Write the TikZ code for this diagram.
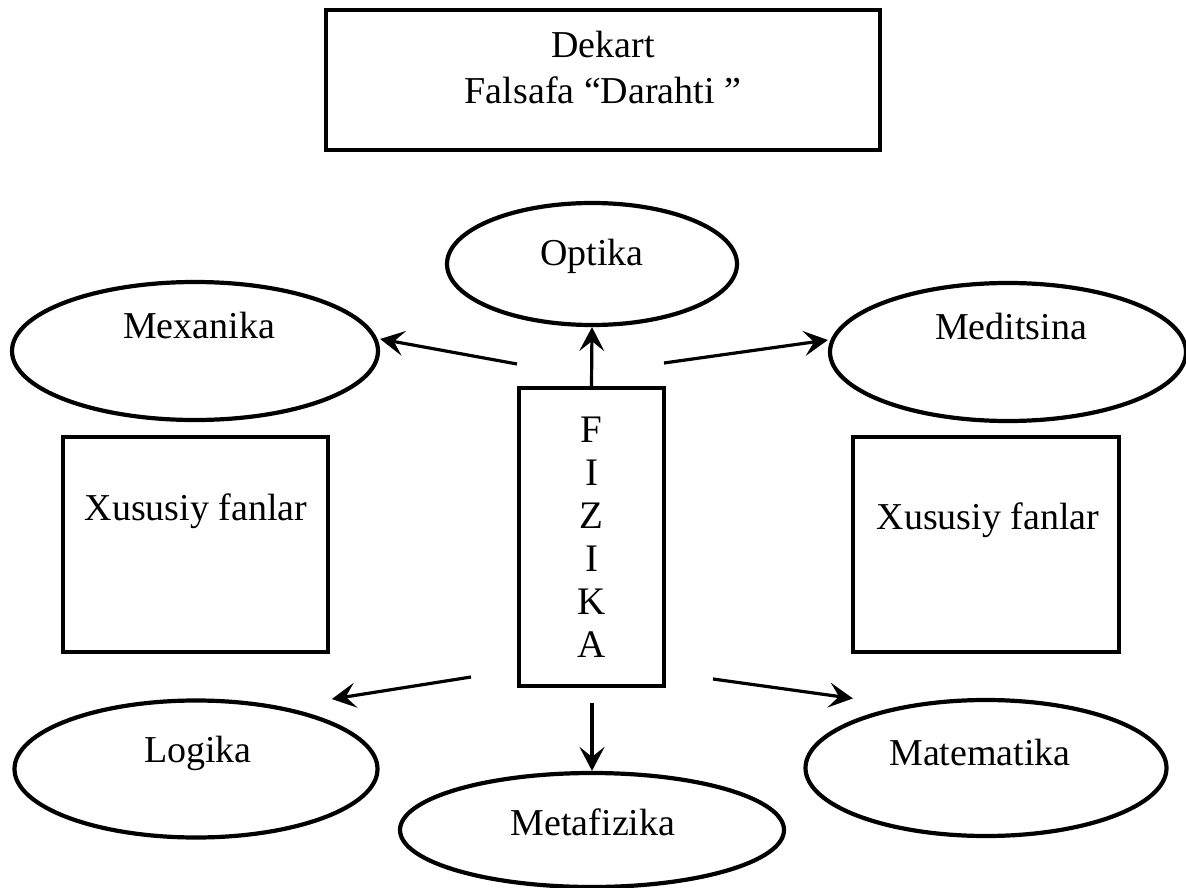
\documentclass[tikz,border=0pt]{standalone}
\usepackage{fontspec}
\setmainfont{Liberation Serif}
\usetikzlibrary{shapes.geometric,arrows.meta}
\begin{document}
\begin{tikzpicture}[x=1pt,y=-1pt,
  every node/.style={font=\fontsize{38}{46}\selectfont},
  boxnode/.style={draw,line width=4.2pt,rectangle,inner sep=0pt},
  ellnode/.style={draw,line width=4.2pt,ellipse,inner sep=0pt},
  lbl/.style={inner sep=0pt},
  arr/.style={line width=3.2pt,-{Stealth[length=24pt,width=25pt,inset=10pt]}}]
\useasboundingbox (0,0) rectangle (1186,888);
% boxes
\node[boxnode,minimum width=554pt,minimum height=140pt] (top) at (603,80) {};
\node[lbl,align=center] (topT) at (603,68) {Dekart\\Falsafa “Darahti ”};
\node[boxnode,minimum width=145pt,minimum height=298pt,align=center,font=\fontsize{39}{43}\selectfont] (fiz) at (591.5,537) {F\\I\\Z\\I\\K\\A};
\node[boxnode,minimum width=265pt,minimum height=215pt] (xl) at (195.5,544.5) {};
\node[lbl] (xlT) at (196,511) {Xususiy fanlar};
\node[boxnode,minimum width=266pt,minimum height=215pt] (xr) at (986,544.5) {};
\node[lbl] (xrT) at (988,520) {Xususiy fanlar};
% ellipses
\node[ellnode,minimum width=290pt,minimum height=122pt] (opt) at (592,264) {};
\node[lbl] (optT) at (592,256) {Optika};
\node[ellnode,minimum width=366pt,minimum height=138pt] (mex) at (195,351) {};
\node[lbl] (mexT) at (199,326) {Mexanika};
\node[ellnode,minimum width=356pt,minimum height=138pt] (med) at (1008,352) {};
\node[lbl] (medT) at (1011,327) {Meditsina};
\node[ellnode,minimum width=363pt,minimum height=137pt] (log) at (196,769) {};
\node[lbl] (logT) at (198,753) {Logika};
\node[ellnode,minimum width=361pt,minimum height=136pt] (mat) at (986,768) {};
\node[lbl] (matT) at (980,752) {Matematika};
\node[ellnode,minimum width=384pt,minimum height=114pt] (met) at (592,830) {};
\node[lbl] (metT) at (593,822) {Metafizika};
% free ends
\coordinate (aMex) at (517,364);
\coordinate (aMed) at (664,363);
\coordinate (aLog) at (471,677);
\coordinate (aMat) at (713,679);
\coordinate (aMet) at (592,703);
% arrows
\draw[arr] (fiz.north) -- (opt.south);
\draw[arr] (aMex) -- ([yshift=12pt]mex.east);
\draw[arr] (aMed) -- ([yshift=12pt]med.west);
\draw[arr] (aLog) -- ([xshift=6pt,yshift=20pt]log.north east);
\draw[arr] (aMat) -- ([xshift=-4pt,yshift=20pt]mat.north west);
\draw[arr] (aMet) -- (met.north);
\end{tikzpicture}
\end{document}
